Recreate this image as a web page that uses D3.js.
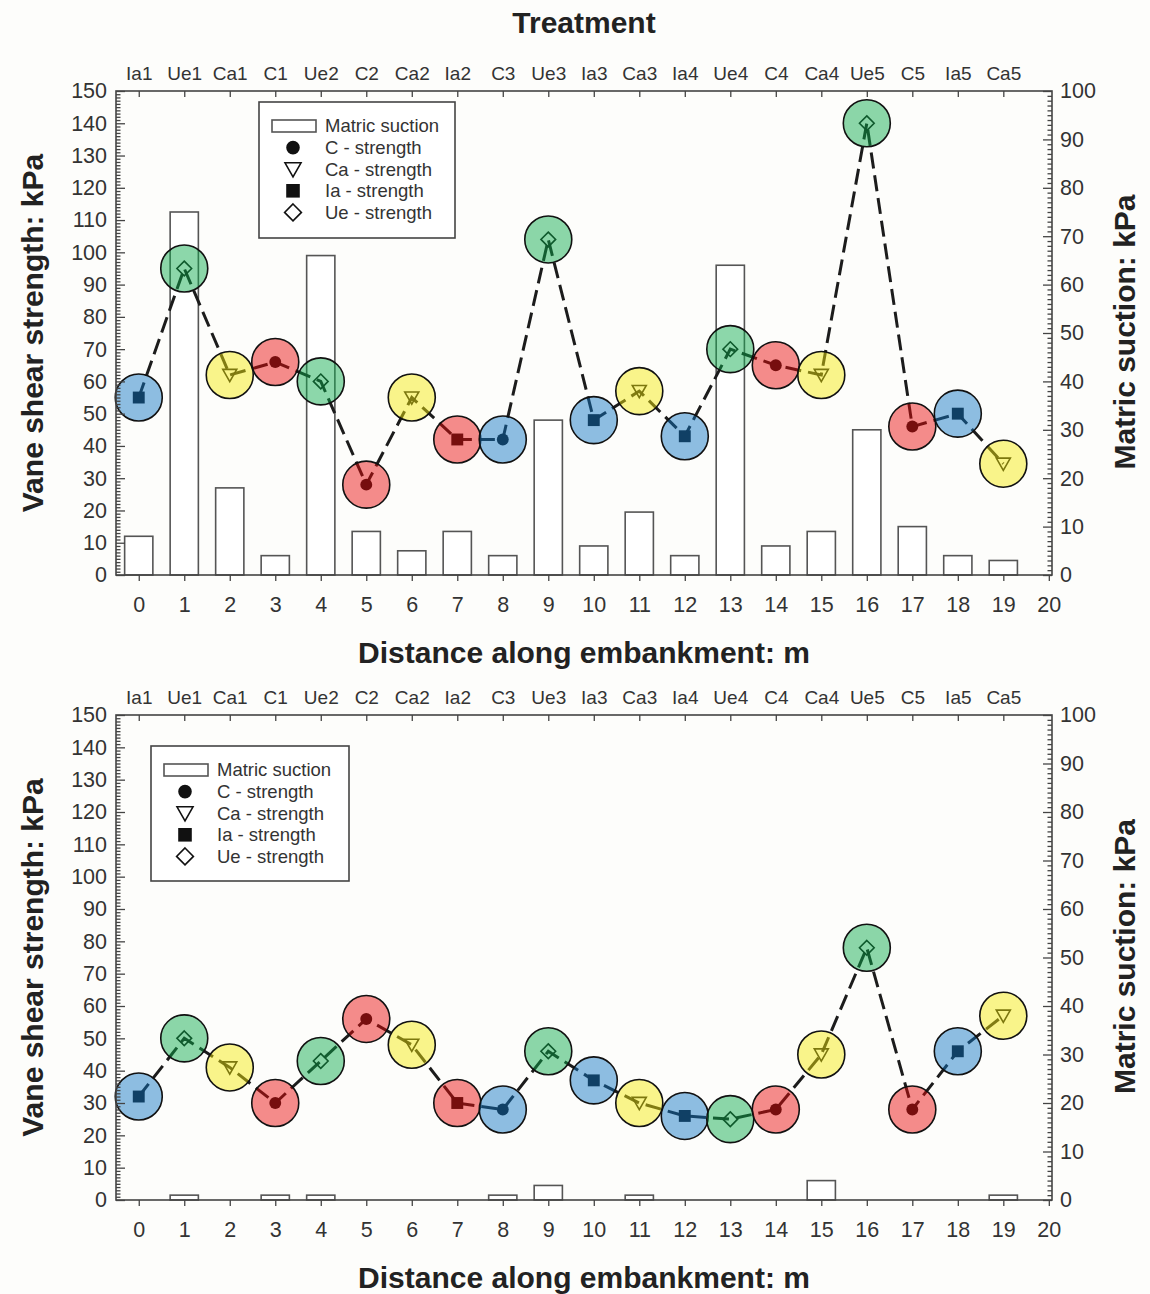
<!DOCTYPE html>
<html>
<head>
<meta charset="utf-8">
<script src="https://cdn.jsdelivr.net/npm/d3@7"></script>
<style>
  html, body { margin: 0; padding: 0; background: #fdfdfb; }
  svg { display: block; font-family: "Liberation Sans", Arial, Helvetica, sans-serif; }
</style>
</head>
<body>
<svg id="chart" width="1150" height="1294"></svg>
<script>
// Treatment plot order along the embankment (one per metre)
const treatments = ["Ia1","Ue1","Ca1","C1","Ue2","C2","Ca2","Ia2","C3","Ue3",
                    "Ia3","Ca3","Ia4","Ue4","C4","Ca4","Ue5","C5","Ia5","Ca5"];
const distances = [0,1,2,3,4,5,6,7,8,9,10,11,12,13,14,15,16,17,18,19];
const distanceTicks = [0,1,2,3,4,5,6,7,8,9,10,11,12,13,14,15,16,17,18,19,20];
const strengthTicks = [0,10,20,30,40,50,60,70,80,90,100,110,120,130,140,150];
const suctionTicks = [0,10,20,30,40,50,60,70,80,90,100];

// Highlight disc colour group for each plot
const discGroups = ["Ia","Ue","Ca","C","Ue","C","Ca","C","Ia","Ue",
                    "Ia","Ca","Ia","Ue","C","Ca","Ue","C","Ia","Ca"];

// Upper survey: vane shear strength (kPa) and matric suction (kPa)
const strengthUpper = [55,95,62,66,60,28,55,42,42,104,48,57,43,70,65,62,140,46,50,34.5];
const suctionUpper  = [8,75,18,4,66,9,5,9,4,32,6,13,4,64,6,9,30,10,4,3];

// Lower survey
const strengthLower = [32,50,41,30,43,56,48,30,28,46,37,30,26,25,28,45,78,28,46,57];
const suctionLower  = [0,1,0,1,1,0,0,0,1,3,0,1,0,0,0,4,0,0,0,1];

// Treatment groups, highlight colours and marker symbols
const groups = ["C","Ca","Ia","Ue"];
const groupLabels = ["C - strength","Ca - strength","Ia - strength","Ue - strength"];
const groupColors = {C:"rgb(234,10,10)", Ca:"rgb(245,234,10)", Ia:"rgb(15,117,196)", Ue:"rgb(10,170,75)"};

const svg = d3.select("#chart");
svg.append("rect").attr("width",1150).attr("height",1294).attr("fill","#fdfdfb");

const FONT_TICK = 21.5, FONT_CAT = 19, FONT_TITLE = 30, FONT_LEG = 18.5;
const axisColor = "#444", textColor = "#333";
const groupOf = t => t.replace(/\d+$/,"");

function symbolPath(group, s) {
  // s: nominal half-size
  if (group === "Ca") {
    return `M${-s},${-s*0.8} L${s},${-s*0.8} L0,${s*0.95} Z`;
  }
  if (group === "Ue") {
    return `M0,${-s*1.05} L${s*1.05},0 L0,${s*1.05} L${-s*1.05},0 Z`;
  }
  if (group === "Ia") {
    return `M${-s*0.85},${-s*0.85} h${s*1.7} v${s*1.7} h${-s*1.7} Z`;
  }
  return d3.arc()({innerRadius:0, outerRadius:s*0.85, startAngle:0, endAngle:2*Math.PI});
}
function drawSymbol(sel, group, s) {
  const filled = group === "C" || group === "Ia";
  sel.append("path")
    .attr("d", symbolPath(group, s))
    .attr("fill", filled ? "#111" : "none")
    .attr("stroke", "#111")
    .attr("stroke-width", filled ? 0 : 1.6)
    .attr("stroke-linejoin","miter");
}

function drawPanel(p) {
  const left = 116, right = 1052;
  const x = d3.scaleLinear().domain([-0.5, 20.07]).range([left, right]);
  const yL = d3.scaleLinear().domain([0,150]).range([p.bottom, p.top]);
  const yR = d3.scaleLinear().domain([0,100]).range([p.bottom, p.top]);
  const g = svg.append("g");

  const pts = distances.map((d,i) => ({d, t: treatments[i], grp: groupOf(treatments[i]),
                                        disc: discGroups[i], s: p.strength[i], m: p.suction[i]}));

  // Matric suction bars (right axis)
  const bw = x(0.62) - x(0);
  g.append("g").selectAll("rect")
    .data(pts.filter(e => e.m > 0))
    .join("rect")
      .attr("x", e => x(e.d) - bw/2)
      .attr("width", bw)
      .attr("y", e => yR(e.m))
      .attr("height", e => yR(0) - yR(e.m))
      .attr("fill", "#fff")
      .attr("stroke", "#555")
      .attr("stroke-width", 1.6);

  // Strength profile line
  const line = d3.line().x(e => x(e.d)).y(e => yL(e.s));
  g.append("path")
    .attr("d", line(pts))
    .attr("fill","none")
    .attr("stroke","#1c1c1c")
    .attr("stroke-width",3)
    .attr("stroke-dasharray","16,7");

  // Strength markers
  pts.forEach(e => {
    const mg = g.append("g").attr("transform", `translate(${x(e.d)},${yL(e.s)})`);
    drawSymbol(mg, e.grp, 7);
  });

  // Highlight discs
  g.append("g").selectAll("circle")
    .data(pts)
    .join("circle")
      .attr("cx", e => x(e.d))
      .attr("cy", e => yL(e.s))
      .attr("r", 23.5)
      .attr("fill", e => groupColors[e.disc])
      .attr("fill-opacity", 0.47)
      .attr("stroke", "#111")
      .attr("stroke-width", 1.6);

  // Frame
  g.append("rect")
    .attr("x", left).attr("y", p.top)
    .attr("width", right-left).attr("height", p.bottom-p.top)
    .attr("fill","none").attr("stroke",axisColor).attr("stroke-width",1.6);

  const styleAxis = (ax, fs) => {
    ax.select(".domain").remove();
    ax.selectAll("line").attr("stroke", axisColor).attr("stroke-width", 1.3);
    ax.selectAll("text").attr("fill", textColor).attr("font-size", fs)
      .attr("font-family", null);
  };

  // Left axis: major + minor (inward)
  const axL = g.append("g").attr("transform",`translate(${left},0)`)
    .call(d3.axisLeft(yL).tickValues(strengthTicks).tickSize(-9).tickPadding(9));
  styleAxis(axL, FONT_TICK);
  const axLm = g.append("g").attr("transform",`translate(${left},0)`)
    .call(d3.axisLeft(yL).tickValues(d3.range(0,151,1).filter(v => v%10)).tickSize(-4.5).tickFormat(""));
  styleAxis(axLm, FONT_TICK);

  // Right axis: major + minor (inward)
  const axR = g.append("g").attr("transform",`translate(${right},0)`)
    .call(d3.axisRight(yR).tickValues(suctionTicks).tickSize(-9).tickPadding(8));
  styleAxis(axR, FONT_TICK);
  const axRm = g.append("g").attr("transform",`translate(${right},0)`)
    .call(d3.axisRight(yR).tickValues(d3.range(0,101,1).filter(v => v%10)).tickSize(-4.5).tickFormat(""));
  styleAxis(axRm, FONT_TICK);

  // Bottom axis: distance (outward)
  const axB = g.append("g").attr("transform",`translate(0,${p.bottom})`)
    .call(d3.axisBottom(x).tickValues(distanceTicks).tickSize(6).tickPadding(16));
  styleAxis(axB, FONT_TICK);

  // Top axis: treatment labels (inward)
  const axT = g.append("g").attr("transform",`translate(0,${p.top})`)
    .call(d3.axisTop(x).tickValues(distances).tickFormat(i => treatments[i]).tickSize(-6).tickPadding(11));
  styleAxis(axT, FONT_CAT);

  // Axis titles
  const midY = (p.top + p.bottom) / 2;
  g.append("text")
    .attr("transform", `translate(43,${midY}) rotate(-90)`)
    .attr("text-anchor","middle")
    .attr("font-size", FONT_TITLE).attr("font-weight","bold").attr("fill","#222")
    .text("Vane shear strength: kPa");
  g.append("text")
    .attr("transform", `translate(1135,${midY - 1}) rotate(-90)`)
    .attr("text-anchor","middle")
    .attr("font-size", FONT_TITLE).attr("font-weight","bold").attr("fill","#222")
    .text("Matric suction: kPa");
  g.append("text")
    .attr("x", 584).attr("y", p.bottom + 88)
    .attr("text-anchor","middle")
    .attr("font-size", FONT_TITLE).attr("font-weight","bold").attr("fill","#222")
    .text("Distance along embankment: m");

  // Legend
  const L = p.legend;
  const lg = g.append("g").attr("transform", `translate(${L.x},${L.y})`);
  lg.append("rect").attr("width", L.w).attr("height", L.h)
    .attr("fill","#fff").attr("stroke", axisColor).attr("stroke-width", 1.6);
  const rowY = i => 24 + i*21.6;
  lg.append("rect").attr("x", 13).attr("y", rowY(0) - 6).attr("width", 44).attr("height", 12)
    .attr("fill","#fff").attr("stroke","#555").attr("stroke-width",1.6);
  lg.append("text").attr("x", 66).attr("y", rowY(0)).attr("dy","0.35em")
    .attr("font-size", FONT_LEG).attr("fill", textColor).text("Matric suction");
  groups.forEach((grp, i) => {
    const sg = lg.append("g").attr("transform", `translate(34,${rowY(i+1)})`);
    drawSymbol(sg, grp, 8);
    lg.append("text").attr("x", 66).attr("y", rowY(i+1)).attr("dy","0.35em")
      .attr("font-size", FONT_LEG).attr("fill", textColor).text(groupLabels[i]);
  });
}

// Chart title over the treatment axis
svg.append("text")
  .attr("x", 584).attr("y", 33)
  .attr("text-anchor","middle")
  .attr("font-size", FONT_TITLE).attr("font-weight","bold").attr("fill","#222")
  .text("Treatment");

drawPanel({top: 91, bottom: 575, strength: strengthUpper, suction: suctionUpper,
           legend: {x: 259, y: 102, w: 196, h: 136}});
drawPanel({top: 715, bottom: 1200, strength: strengthLower, suction: suctionLower,
           legend: {x: 151, y: 746, w: 198, h: 135}});
</script>
</body>
</html>
